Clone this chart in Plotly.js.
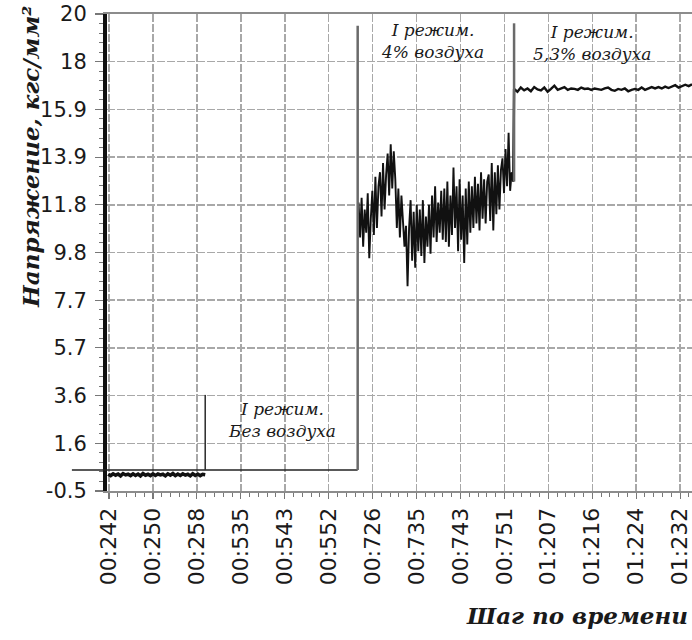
<!DOCTYPE html>
<html>
<head>
<meta charset="utf-8">
<script src="https://cdn.plot.ly/plotly-3.0.1.min.js"></script>
<style>
  html, body { margin: 0; padding: 0; background: #ffffff; }
  #chart { width: 692px; height: 640px; }
</style>
</head>
<body>
<div id="chart"></div>
<script>
// ---- Data ----
const timeLabels = ['00:242','00:250','00:258','00:535','00:543','00:552','00:726',
                    '00:735','00:743','00:751','01:207','01:216','01:224','01:232'];

const yTickVals = [-0.5, 1.55, 3.6, 5.65, 7.7, 9.75, 11.8, 13.85, 15.9, 17.95, 20];
const yTickText = ['-0.5','1.6','3.6','5.7','7.7','9.8','11.8','13.9','15.9','18','20'];

// Regime 1, no air (stress, kgf/mm2)
const stressNoAir = [0.22,0.16,0.24,0.18,0.23,0.15,0.25,0.19,0.22,0.16,0.24,0.17,0.23,0.15,0.25,0.18,
  0.22,0.16,0.24,0.17,0.23,0.19,0.22,0.15,0.24,0.18,0.25,0.16,0.23,0.17,0.24,0.18,0.22,0.15,0.24,0.17,
  0.23,0.16,0.22,0.2];

// Regime 1, 4% air
const stressAir4 = [11.9,10.4,12.1,10.0,11.6,10.6,12.3,9.5,11.2,
  12.4,10.5,13.0,10.8,12.6,
  13.2,11.3,13.6,11.6,13.1,
  14.0,12.2,14.4,12.5,14.1,
  12.9,10.8,12.5,10.4,12.2,
  11.1,10.0,10.9,8.3,10.8,
  12.0,9.4,11.5,9.1,11.8,9.8,
  11.6,9.6,12.0,9.3,11.3,10.0,11.8,9.7,
  12.2,10.4,12.6,10.2,11.9,10.6,12.4,10.3,
  12.5,10.2,12.8,10.0,12.2,10.5,13.4,10.8,
  12.6,9.8,12.9,10.3,12.2,9.3,12.5,10.1,12.8,10.6,
  12.6,10.8,13.0,11.0,12.7,10.7,13.2,11.2,12.9,11.0,12.8,
  13.1,11.1,13.6,10.7,13.2,11.4,13.5,11.6,13.3,
  13.8,12.3,14.2,12.6,14.9,12.4,13.2,12.8];

// Regime 1, 5.3% air
const stressAir53 = [16.78,16.66,16.84,16.72,16.8,16.68,16.86,16.76,16.72,16.84,16.66,16.78,16.92,
  16.74,16.8,16.86,16.74,16.8,16.78,16.74,16.84,16.78,16.8,16.74,16.8,16.78,16.74,16.8,16.84,16.74,
  16.7,16.78,16.74,16.8,16.68,16.74,16.78,16.74,16.84,16.74,16.8,16.86,16.8,16.86,16.8,16.88,16.82,
  16.88,16.94,16.84,16.9,16.96,16.9,16.98];

// axis range on the time-step axis (tick index units)
const xRange = [-0.046, 13.27];

// segment spans on the time-step axis (tick index units)
const spanNoAir = [-0.02, 2.19];
const spanAir4  = [5.68, 9.2];
const spanAir53 = [9.22, 13.27];

// regime separators / bracket (tick index units, stress units)
const bracketLevel = 0.4;
const sepNoAirX = 2.19,  sepNoAirTop = 3.63;
const sepAir4X  = 5.66,  sepAir4Top  = 19.5;
const sepAir53X = 9.22,  sepAir53Bottom = 12.8, sepAir53Top = 19.6;

const regimeLabels = [
  {text: 'I режим.<br>Без воздуха', x: 3.93,  y: 2.55},
  {text: 'I режим.<br>4% воздуха',  x: 7.36, y: 18.85},
  {text: 'I режим.<br>5,3% воздуха', x: 11.0, y: 18.75}
];

function spread(vals, span) {
  const n = vals.length;
  return vals.map((_, i) => span[0] + (span[1] - span[0]) * i / (n - 1));
}
function toPaper(v) { return (v - xRange[0]) / (xRange[1] - xRange[0]); }

const lineColor = '#111111';
const traces = [
  {x: spread(stressNoAir, spanNoAir), y: stressNoAir, mode: 'lines',
   line: {color: lineColor, width: 3.5}, hoverinfo: 'skip', showlegend: false},
  {x: spread(stressAir4, spanAir4), y: stressAir4, mode: 'lines',
   line: {color: lineColor, width: 1.9}, hoverinfo: 'skip', showlegend: false},
  {x: [spanAir4[1]].concat(spread(stressAir53, spanAir53)),
   y: [stressAir4[stressAir4.length - 1]].concat(stressAir53), mode: 'lines',
   line: {color: lineColor, width: 2.4}, hoverinfo: 'skip', showlegend: false}
];

const shapes = [
  // bracket bottom line (extends left of axis)
  {type: 'line', xref: 'paper', yref: 'y', x0: -0.06, x1: toPaper(sepAir4X), y0: bracketLevel, y1: bracketLevel,
   line: {color: '#222', width: 1.6}, layer: 'above'},
  {type: 'line', xref: 'x', yref: 'y', x0: sepNoAirX, x1: sepNoAirX, y0: bracketLevel, y1: sepNoAirTop,
   line: {color: '#333', width: 1.6}},
  {type: 'line', xref: 'x', yref: 'y', x0: sepAir4X, x1: sepAir4X, y0: bracketLevel, y1: sepAir4Top,
   line: {color: '#6a6a6a', width: 2.5}},
  {type: 'line', xref: 'x', yref: 'y', x0: sepAir53X, x1: sepAir53X, y0: sepAir53Bottom, y1: sepAir53Top,
   line: {color: '#6a6a6a', width: 2.5}}
];

const annotations = regimeLabels.map(r => ({
  text: r.text, x: r.x, y: r.y, xref: 'x', yref: 'y', showarrow: false,
  xanchor: 'center', yanchor: 'middle', align: 'center',
  font: {family: 'DejaVu Serif', size: 17, color: '#1a1a1a', style: 'italic'}
}));
annotations.push({
  text: '<b><i>Напряжение, кгс/мм²</i></b>', xref: 'paper', yref: 'paper',
  x: -0.132, y: 0.70, textangle: -90, showarrow: false, xanchor: 'center', yanchor: 'middle',
  font: {family: 'DejaVu Serif', size: 23, color: '#1a1a1a'}
});
annotations.push({
  text: '<b><i>Шаг по времени</i></b>', xref: 'paper', yref: 'paper',
  x: 0.997, y: -0.262, showarrow: false, xanchor: 'right', yanchor: 'middle',
  font: {family: 'DejaVu Serif', size: 23, color: '#1a1a1a'}
});

const layout = {
  width: 692, height: 640,
  margin: {l: 107, r: 0, t: 14, b: 149},
  paper_bgcolor: '#ffffff', plot_bgcolor: '#ffffff',
  showlegend: false,
  xaxis: {
    range: xRange,
    tickmode: 'array', tickvals: timeLabels.map((_, i) => i), ticktext: timeLabels,
    tickangle: -90, ticklabeloverflow: 'allow',
    tickfont: {family: 'DejaVu Sans', size: 22, color: '#1a1a1a'},
    showgrid: true, gridcolor: '#a8a8a8', gridwidth: 1.5, griddash: '8px,2px',
    zeroline: false,
    showline: true, linecolor: '#8c8c8c', linewidth: 2, mirror: true,
    ticks: 'outside', ticklen: 6, tickcolor: '#777', tickwidth: 1.2,
    minor: {tickmode: 'linear', tick0: 0, dtick: 0.2, ticks: 'outside', ticklen: 4,
            tickcolor: '#777', tickwidth: 1, showgrid: false},
    fixedrange: true
  },
  yaxis: {
    range: [-0.5, 20],
    tickmode: 'array', tickvals: yTickVals, ticktext: yTickText,
    tickfont: {family: 'DejaVu Sans', size: 21, color: '#1a1a1a'},
    showgrid: true, gridcolor: '#a8a8a8', gridwidth: 1.5, griddash: '8px,2px',
    zeroline: false,
    showline: true, linecolor: '#111', linewidth: 4,
    ticks: 'outside', ticklen: 8, tickcolor: '#777', tickwidth: 1.2,
    ticklabelstandoff: 4,
    minor: {tickmode: 'linear', tick0: -0.5, dtick: 0.41, ticks: 'outside', ticklen: 4,
            tickcolor: '#777', tickwidth: 1, showgrid: false},
    fixedrange: true
  },
  shapes: shapes,
  annotations: annotations
};

Plotly.newPlot('chart', traces, layout, {displayModeBar: false, staticPlot: true});
</script>
</body>
</html>
